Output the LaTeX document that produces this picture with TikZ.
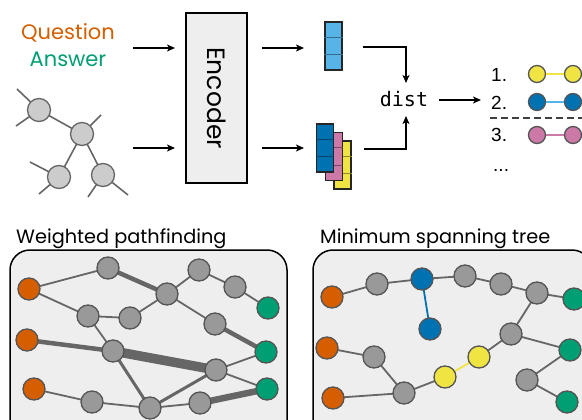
\documentclass[tikz,border=0pt]{standalone}
\usepackage{fontspec}
\setmainfont{Poppins}
\newfontfamily\numfont{Liberation Sans}
\newfontfamily\monofont{DejaVu Sans Mono}
\usetikzlibrary{arrows.meta}
\definecolor{qorange}{HTML}{D55E00}
\definecolor{qgreen}{HTML}{009E73}
\definecolor{qsky}{HTML}{56B4E9}
\definecolor{qblue}{HTML}{0072B2}
\definecolor{qpink}{HTML}{CC79A7}
\definecolor{qyellow}{HTML}{F0E442}
\definecolor{nodegray}{HTML}{999999}
\definecolor{nodeline}{HTML}{555555}
\definecolor{lnkgray}{HTML}{666666}
\definecolor{panelfill}{HTML}{EEEEEE}
\pgfdeclarelayer{back}
\pgfdeclarelayer{bg}
\pgfsetlayers{back,bg,main}
\begin{document}
\begin{tikzpicture}[x=1pt,y=-1pt,
  gnode/.style={circle,draw=nodeline,fill=nodegray,line width=1.3pt,minimum size=22pt,inner sep=0pt},
  onode/.style={gnode,fill=qorange},
  grnode/.style={gnode,fill=qgreen},
  bnode/.style={gnode,fill=qblue},
  ynode/.style={gnode,fill=qyellow},
  tnode/.style={circle,draw=lnkgray,fill=black!20,line width=1.3pt,minimum size=23pt,inner sep=0pt},
  snode/.style={circle,draw=nodeline,line width=1.3pt,minimum size=17pt,inner sep=0pt},
  lnk/.style={draw=lnkgray,line width=1.8pt},
  wa/.style={lnk,line width=3pt},
  wb/.style={lnk,line width=4.5pt},
  wc/.style={lnk,line width=6.5pt},
  wd/.style={lnk,line width=9.5pt},
  arr/.style={-{Stealth[length=8pt,width=7pt,inset=2pt]},line width=1.5pt},
  panel/.style={draw=black,fill=panelfill,line width=1.5pt,rounded corners=20pt},
  vec/.style={draw=black!85,line width=1.4pt,minimum width=17pt,minimum height=48pt,inner sep=0pt},
  ttl/.style={font=\fontsize{19.3}{19.3}\selectfont,anchor=base west,inner sep=0pt},
  num/.style={font=\numfont\fontsize{19}{19}\selectfont,anchor=west,inner sep=0pt}]
\useasboundingbox (0,0) rectangle (582,420);
\clip (0,0) rectangle (582,420);

% ---------- top: inputs ----------
\node[font=\fontsize{21}{21}\selectfont,text=qorange] (q) at (68,33) {Question};
\node[font=\fontsize{21}{21}\selectfont,text=qgreen] (ans) at (68,59) {Answer};

\node[tnode] (t1) at (39,110) {};
\node[tnode] (t2) at (82,134) {};
\node[tnode] (t3) at (59,177) {};
\node[tnode] (t4) at (103,175) {};
\coordinate (s1) at (17,89);
\coordinate (s2) at (16,126);
\coordinate (s3) at (101,115);
\coordinate (s4) at (30,162);
\coordinate (s5) at (39,194);
\coordinate (s6) at (128,195);
\coordinate (s7) at (88,197);
\begin{pgfonlayer}{bg}
\draw[lnkgray,line width=1.6pt] (t1.center) -- (s1) (t1.center) -- (s2) (t2.center) -- (s3)
  (t1.center) -- (t2.center) (t2.center) -- (t3.center) (t2.center) -- (t4.center)
  (t3.center) -- (s4) (t3.center) -- (s5) (t4.center) -- (s6) (t4.center) -- (s7);
\end{pgfonlayer}

\node[draw=black,fill=panelfill,line width=1.5pt,rotate=-90,minimum width=170pt,minimum height=61pt,
  font=\fontsize{25}{25}\selectfont] (enc) at (216.5,98) {Encoder};

\coordinate (a1s) at (133,48);  \coordinate (a1e) at (175,48);
\coordinate (a2s) at (133,148); \coordinate (a2e) at (175,148);
\coordinate (a3s) at (262,48);  \coordinate (a3e) at (304,48);
\coordinate (a4s) at (262,148); \coordinate (a4e) at (304,148);
\draw[arr] (a1s) -- (a1e);
\draw[arr] (a2s) -- (a2e);
\draw[arr] (a3s) -- (a3e);
\draw[arr] (a4s) -- (a4e);

% vectors
\node[vec,fill=qsky] (vt) at (333.5,46) {};
\draw[qsky!60!black,line width=1pt] ([yshift=-16pt]vt.north west) -- ([yshift=-16pt]vt.north east)
  ([yshift=16pt]vt.south west) -- ([yshift=16pt]vt.south east);
\node[vec,fill=qyellow] (vy) at (342.5,165) {};
\draw[qyellow!60!black,line width=1pt] ([yshift=-16pt]vy.north west) -- ([yshift=-16pt]vy.north east)
  ([yshift=16pt]vy.south west) -- ([yshift=16pt]vy.south east);
\node[vec,fill=qpink] (vp) at (334,156.5) {};
\draw[qpink!60!black,line width=1pt] ([yshift=-16pt]vp.north west) -- ([yshift=-16pt]vp.north east)
  ([yshift=16pt]vp.south west) -- ([yshift=16pt]vp.south east);
\node[vec,fill=qblue] (vb) at (325,148) {};
\draw[qblue!60!black,line width=1pt] ([yshift=-16pt]vb.north west) -- ([yshift=-16pt]vb.north east)
  ([yshift=16pt]vb.south west) -- ([yshift=16pt]vb.south east);

% dist
\node[font=\monofont\fontsize{20}{20}\selectfont,inner sep=0pt] (dist) at (404,99) {dist};
\coordinate (d1s) at (363,47);  \coordinate (d1e) at (406,83);
\coordinate (d2s) at (364,149); \coordinate (d2e) at (406,116);
\draw[arr] (d1s) -| (d1e);
\draw[arr] (d2s) -| (d2e);
\coordinate (d3s) at (439,100); \coordinate (d3e) at (481,100);
\draw[arr] (d3s) -- (d3e);

% ranked list
\node[num] (n1) at (491,75) {1.};
\node[num] (n2) at (491,103) {2.};
\node[num] (n3) at (491,135) {3.};
\node[num] (n4) at (493,170) {...};
\coordinate (dl1) at (490,118); \coordinate (dl2) at (590,118);
\draw[black!75,line width=1.5pt,dash pattern=on 7pt off 4pt] (dl1) -- (dl2);
\node[snode,fill=qyellow] (yl) at (537,74) {};
\node[snode,fill=qyellow] (yr) at (573,74) {};
\node[snode,fill=qblue] (bl) at (537,102) {};
\node[snode,fill=qblue] (br) at (573,102) {};
\node[snode,fill=qpink] (pl) at (537,135) {};
\node[snode,fill=qpink] (pr) at (573,135) {};
\draw[qyellow,line width=1.8pt] (yl) -- (yr);
\draw[qsky,line width=1.8pt] (bl) -- (br);
\draw[qpink,line width=1.8pt] (pl) -- (pr);

% ---------- bottom left: weighted pathfinding ----------
\node[ttl] (tl) at (16,243) {Weighted pathfinding};
\begin{pgfonlayer}{back}
\draw[panel] (10,250) rectangle (287,445);
\draw[panel] (313,250) rectangle (592,445);
\end{pgfonlayer}

\node[onode] (o1) at (29,289) {};
\node[onode] (o2) at (27,340) {};
\node[onode] (o3) at (34,389) {};
\node[gnode] (ga) at (108,268) {};
\node[gnode] (gb) at (88,316) {};
\node[gnode] (gc) at (130,318) {};
\node[gnode] (gd) at (167,294) {};
\node[gnode] (ge) at (199,270) {};
\node[gnode] (gf) at (235,287) {};
\node[gnode] (gg) at (215,324) {};
\node[gnode] (gh) at (113,351) {};
\node[gnode] (gi) at (216,370) {};
\node[gnode] (gj) at (92,402) {};
\node[gnode] (gk) at (150,408) {};
\node[gnode] (gl) at (200,403) {};
\node[grnode] (e1) at (268,308) {};
\node[grnode] (e2) at (266,352) {};
\node[grnode] (e3) at (267,389) {};
\begin{pgfonlayer}{bg}
\draw[lnk] (o1.center) -- (ga.center);
\draw[lnk] (o1.center) -- (gb.center);
\draw[wb] (ga.center) -- (gd.center);
\draw[lnk] (gb.center) -- (gc.center);
\draw[lnk] (gc.center) -- (gd.center);
\draw[lnk] (gd.center) -- (ge.center);
\draw[lnk] (ge.center) -- (gf.center);
\draw[lnk] (gf.center) -- (e1.center);
\draw[lnk] (gd.center) -- (gg.center);
\draw[wb] (gg.center) -- (e2.center);
\draw[lnk] (gb.center) -- (gh.center);
\draw[wb] (o2.center) -- (gh.center);
\draw[wd] (gh.center) -- (gi.center);
\draw[lnk] (gi.center) -- (e2.center);
\draw[lnk] (gi.center) -- (e3.center);
\draw[wa] (gh.center) -- (gk.center);
\draw[lnk] (o3.center) -- (gj.center);
\draw[lnk] (gj.center) -- (gk.center);
\draw[wa] (gk.center) -- (gi.center);
\draw[lnk] (gk.center) -- (gl.center);
\draw[wc] (gl.center) -- (e3.center);
\end{pgfonlayer}

% ---------- bottom right: minimum spanning tree ----------
\node[ttl] (tr) at (320,243) {Minimum spanning tree};
\node[onode] (ro1) at (332,297) {};
\node[onode] (ro2) at (327,348) {};
\node[onode] (ro3) at (333,398) {};
\node[gnode] (ra) at (377,284) {};
\node[bnode] (rb1) at (422,279) {};
\node[bnode] (rb2) at (430,329) {};
\node[gnode] (rb) at (465,276) {};
\node[gnode] (rc) at (501,284) {};
\node[gnode] (rd) at (537,293) {};
\node[grnode] (re1) at (574,299) {};
\node[gnode] (re) at (511,334) {};
\node[grnode] (re2) at (570,350) {};
\node[gnode] (rf) at (374,357) {};
\node[ynode] (ry2) at (479,357) {};
\node[ynode] (ry1) at (445,377) {};
\node[gnode] (rg) at (404,393) {};
\node[gnode] (rh) at (527,380) {};
\node[grnode] (re3) at (567,402) {};
\begin{pgfonlayer}{bg}
\draw[lnk] (ro1.center) -- (ra.center);
\draw[lnk] (ra.center) -- (rb1.center);
\draw[lnk] (rb1.center) -- (rb.center);
\draw[lnk] (rb.center) -- (rc.center);
\draw[lnk] (rc.center) -- (rd.center);
\draw[lnk] (rd.center) -- (re1.center);
\draw[lnk,draw=qblue] (rb1.center) -- (rb2.center);
\draw[lnk] (rd.center) -- (re.center);
\draw[lnk] (re.center) -- (re2.center);
\draw[lnk] (re.center) -- (ry2.center);
\draw[lnk,draw=qyellow] (ry2.center) -- (ry1.center);
\draw[lnk] (ry1.center) -- (rg.center);
\draw[lnk] (rg.center) -- (ro3.center);
\draw[lnk] (rg.center) -- (rf.center);
\draw[lnk] (rf.center) -- (ro2.center);
\draw[lnk] (re2.center) -- (rh.center);
\draw[lnk] (rh.center) -- (re3.center);
\end{pgfonlayer}
\end{tikzpicture}
\end{document}
